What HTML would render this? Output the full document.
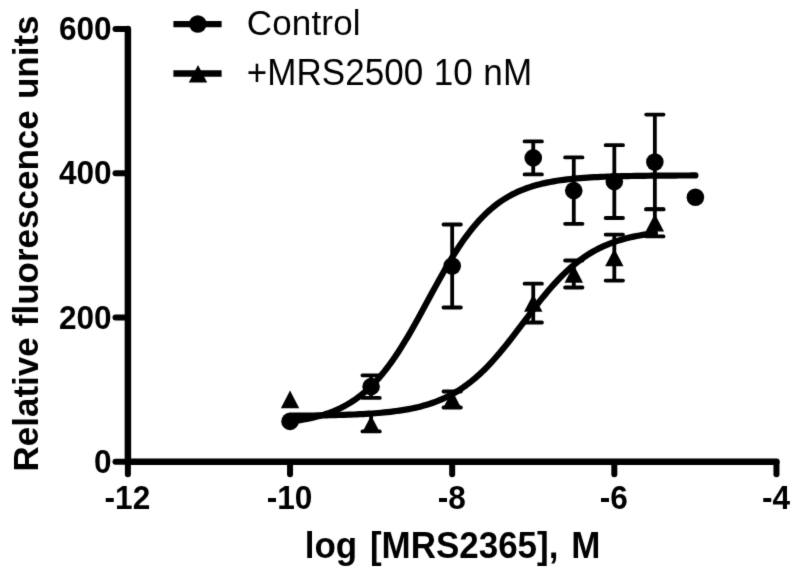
<!DOCTYPE html>
<html lang="en"><head><meta charset="utf-8"><title>Dose response</title>
<style>html,body{margin:0;padding:0;background:#fff}body{width:800px;height:576px;overflow:hidden}svg{display:block}</style>
</head><body>
<svg width="800" height="576" viewBox="0 0 800 576">
<defs><filter id="soft" x="0" y="0" width="800" height="576" filterUnits="userSpaceOnUse" color-interpolation-filters="sRGB"><feConvolveMatrix order="3" kernelMatrix="0.018 0.135 0.018 0.135 1 0.135 0.018 0.135 0.018" divisor="1.612" edgeMode="duplicate" preserveAlpha="true"/></filter></defs>
<g filter="url(#soft)">
<rect width="800" height="576" fill="#fff"/>
<g fill="none" stroke="#000" stroke-linecap="round" stroke-linejoin="round">
<path stroke-width="6.5" d="M127.9 28.899999999999977 V461.8 H776.4599999999999"/>
<path stroke-width="6.0" d="M115.5 461.80 H127.30000000000001"/>
<path stroke-width="6.0" d="M115.5 317.50 H127.30000000000001"/>
<path stroke-width="6.0" d="M115.5 173.20 H127.30000000000001"/>
<path stroke-width="6.0" d="M115.5 28.90 H127.30000000000001"/>
<path stroke-width="6.0" d="M127.90 462.40000000000003 V474.2"/>
<path stroke-width="6.0" d="M290.04 462.40000000000003 V474.2"/>
<path stroke-width="6.0" d="M452.18 462.40000000000003 V474.2"/>
<path stroke-width="6.0" d="M614.32 462.40000000000003 V474.2"/>
<path stroke-width="6.0" d="M776.46 462.40000000000003 V474.2"/>
<path stroke-width="6.2" d="M290.04 421.53 L293.42 421.09 L296.80 420.62 L300.17 420.09 L303.55 419.52 L306.93 418.88 L310.31 418.19 L313.69 417.42 L317.06 416.58 L320.44 415.66 L323.82 414.65 L327.20 413.55 L330.57 412.34 L333.95 411.02 L337.33 409.57 L340.71 408.00 L344.09 406.28 L347.46 404.41 L350.84 402.39 L354.22 400.19 L357.60 397.81 L360.98 395.23 L364.35 392.46 L367.73 389.48 L371.11 386.27 L374.49 382.84 L377.87 379.18 L381.24 375.28 L384.62 371.14 L388.00 366.76 L391.38 362.14 L394.76 357.30 L398.13 352.22 L401.51 346.94 L404.89 341.45 L408.27 335.79 L411.64 329.96 L415.02 324.00 L418.40 317.92 L421.78 311.76 L425.16 305.54 L428.53 299.30 L431.91 293.06 L435.29 286.86 L438.67 280.73 L442.05 274.69 L445.42 268.78 L448.80 263.01 L452.18 257.42 L455.56 252.01 L458.94 246.81 L462.31 241.83 L465.69 237.07 L469.07 232.55 L472.45 228.27 L475.83 224.22 L479.20 220.42 L482.58 216.85 L485.96 213.51 L489.34 210.39 L492.71 207.49 L496.09 204.80 L499.47 202.31 L502.85 200.00 L506.23 197.87 L509.60 195.91 L512.98 194.10 L516.36 192.45 L519.74 190.93 L523.12 189.53 L526.49 188.26 L529.87 187.09 L533.25 186.02 L536.63 185.05 L540.01 184.16 L543.38 183.35 L546.76 182.62 L550.14 181.95 L553.52 181.34 L556.90 180.78 L560.27 180.28 L563.65 179.82 L567.03 179.40 L570.41 179.02 L573.78 178.68 L577.16 178.37 L580.54 178.09 L583.92 177.83 L587.30 177.60 L590.67 177.39 L594.05 177.20 L597.43 177.03 L600.81 176.87 L604.19 176.73 L607.56 176.60 L610.94 176.48 L614.32 176.38 L617.70 176.28 L621.08 176.19 L624.45 176.11 L627.83 176.04 L631.21 175.98 L634.59 175.92 L637.97 175.87 L641.34 175.82 L644.72 175.78 L648.10 175.74 L651.48 175.70 L654.85 175.67 L658.23 175.64 L661.61 175.62 L664.99 175.59 L668.37 175.57 L671.74 175.55 L675.12 175.53 L678.50 175.52 L681.88 175.50 L685.26 175.49 L688.63 175.48 L692.01 175.47 L695.39 175.46"/>
<path stroke-width="6.2" d="M290.04 415.74 L293.08 415.72 L296.12 415.69 L299.16 415.67 L302.20 415.64 L305.24 415.61 L308.28 415.57 L311.32 415.53 L314.36 415.49 L317.40 415.45 L320.44 415.40 L323.48 415.35 L326.52 415.29 L329.56 415.23 L332.60 415.16 L335.64 415.09 L338.68 415.01 L341.72 414.92 L344.76 414.82 L347.80 414.72 L350.84 414.61 L353.88 414.48 L356.92 414.35 L359.96 414.20 L363.00 414.04 L366.04 413.87 L369.08 413.68 L372.12 413.48 L375.16 413.26 L378.20 413.01 L381.24 412.75 L384.28 412.46 L387.32 412.15 L390.36 411.82 L393.40 411.45 L396.44 411.05 L399.48 410.62 L402.52 410.15 L405.56 409.64 L408.60 409.09 L411.64 408.49 L414.69 407.85 L417.73 407.15 L420.77 406.39 L423.81 405.57 L426.85 404.69 L429.89 403.74 L432.93 402.71 L435.97 401.61 L439.01 400.42 L442.05 399.14 L445.09 397.77 L448.13 396.30 L451.17 394.73 L454.21 393.04 L457.25 391.25 L460.29 389.34 L463.33 387.30 L466.37 385.14 L469.41 382.85 L472.45 380.43 L475.49 377.88 L478.53 375.19 L481.57 372.37 L484.61 369.41 L487.65 366.32 L490.69 363.11 L493.73 359.77 L496.77 356.32 L499.81 352.76 L502.85 349.09 L505.89 345.33 L508.93 341.50 L511.97 337.59 L515.01 333.63 L518.05 329.63 L521.09 325.60 L524.13 321.56 L527.17 317.52 L530.21 313.51 L533.25 309.52 L536.29 305.58 L539.33 301.70 L542.37 297.89 L545.41 294.17 L548.45 290.55 L551.49 287.03 L554.53 283.62 L557.57 280.33 L560.61 277.17 L563.65 274.13 L566.69 271.23 L569.73 268.46 L572.77 265.83 L575.81 263.33 L578.85 260.96 L581.89 258.72 L584.93 256.61 L587.97 254.63 L591.01 252.76 L594.05 251.01 L597.09 249.37 L600.13 247.84 L603.17 246.41 L606.21 245.08 L609.25 243.84 L612.29 242.68 L615.33 241.61 L618.37 240.61 L621.41 239.69 L624.45 238.83 L627.49 238.04 L630.53 237.31 L633.57 236.63 L636.61 236.00 L639.65 235.43 L642.69 234.89 L645.73 234.40 L648.77 233.95 L651.81 233.53 L654.85 233.14"/>
<g stroke-width="3.8" stroke-linecap="round">
<path d="M371.11 375.30 V397.90 M362.41 375.30 H379.81 M362.41 397.90 H379.81"/>
<path d="M452.18 224.50 V307.50 M443.48 224.50 H460.88 M443.48 307.50 H460.88"/>
<path d="M533.25 141.40 V174.40 M524.55 141.40 H541.95 M524.55 174.40 H541.95"/>
<path d="M573.78 157.40 V223.80 M565.08 157.40 H582.49 M565.08 223.80 H582.49"/>
<path d="M614.32 145.20 V218.00 M605.62 145.20 H623.02 M605.62 218.00 H623.02"/>
<path d="M654.85 114.60 V209.40 M646.15 114.60 H663.55 M646.15 209.40 H663.55"/>
<path d="M371.11 413.50 V431.40 M362.41 413.50 H379.81 M362.41 431.40 H379.81"/>
<path d="M452.18 391.50 V407.50 M443.48 391.50 H460.88 M443.48 407.50 H460.88"/>
<path d="M533.25 283.70 V322.50 M524.55 283.70 H541.95 M524.55 322.50 H541.95"/>
<path d="M573.78 260.50 V287.50 M565.08 260.50 H582.49 M565.08 287.50 H582.49"/>
<path d="M614.32 234.60 V280.60 M605.62 234.60 H623.02 M605.62 280.60 H623.02"/>
<path d="M654.85 209.20 V236.40 M646.15 209.20 H663.55 M646.15 236.40 H663.55"/>
</g>
<path stroke-width="6.3" stroke-linecap="butt" d="M173.4 24.1 H221.6 M173.4 73.5 H221.6"/>
</g>
<g fill="#000">
<circle cx="290.04" cy="421.4" r="8.8"/>
<circle cx="371.11" cy="386.6" r="8.8"/>
<circle cx="452.18" cy="266" r="8.8"/>
<circle cx="533.25" cy="157.9" r="8.8"/>
<circle cx="573.78" cy="190.6" r="8.8"/>
<circle cx="614.32" cy="181.6" r="8.8"/>
<circle cx="654.85" cy="162.0" r="8.8"/>
<circle cx="695.39" cy="197.3" r="8.8"/>
<path d="M290.04 390.60 L299.24 408.20 H280.84 Z"/>
<path d="M371.11 415.40 L380.31 433.00 H361.91 Z"/>
<path d="M452.18 390.60 L461.38 408.20 H442.98 Z"/>
<path d="M533.25 294.20 L542.45 311.80 H524.05 Z"/>
<path d="M573.78 265.10 L582.99 282.70 H564.58 Z"/>
<path d="M614.32 248.70 L623.52 266.30 H605.12 Z"/>
<path d="M654.85 213.90 L664.05 231.50 H645.65 Z"/>
<circle cx="197.8" cy="24" r="8.8"/>
<path d="M198 64.90 L207.20 82.50 H188.80 Z"/>
</g>
<g font-family="Liberation Sans, Arial, Helvetica, sans-serif" fill="#000">
<text transform="translate(111.6 472.9) scale(1 1.03)" font-size="31.6" font-weight="bold" text-anchor="end">0</text>
<text transform="translate(111.6 328.6) scale(1 1.03)" font-size="31.6" font-weight="bold" text-anchor="end">200</text>
<text transform="translate(111.6 184.3) scale(1 1.03)" font-size="31.6" font-weight="bold" text-anchor="end">400</text>
<text transform="translate(111.6 40.0) scale(1 1.03)" font-size="31.6" font-weight="bold" text-anchor="end">600</text>
<text transform="translate(127.4 508.7) scale(1 1.03)" font-size="31.6" font-weight="bold" text-anchor="middle">-12</text>
<text transform="translate(289.5 508.7) scale(1 1.03)" font-size="31.6" font-weight="bold" text-anchor="middle">-10</text>
<text transform="translate(451.7 508.7) scale(1 1.03)" font-size="31.6" font-weight="bold" text-anchor="middle">-8</text>
<text transform="translate(613.8 508.7) scale(1 1.03)" font-size="31.6" font-weight="bold" text-anchor="middle">-6</text>
<text transform="translate(776.0 508.7) scale(1 1.03)" font-size="31.6" font-weight="bold" text-anchor="middle">-4</text>
<text transform="translate(452.5 558.4) scale(1 1.04)" font-size="35" font-weight="bold" text-anchor="middle" word-spacing="3">log [MRS2365], M</text>
<text transform="translate(37.6 243.5) rotate(-90) scale(1 1.0)" font-size="35" font-weight="bold" text-anchor="middle" word-spacing="1.4">Relative fluorescence units</text>
<text transform="translate(246.8 35.0) scale(1 1.0)" font-size="35" text-anchor="start" letter-spacing="0.15">Control</text>
<text transform="translate(246.8 84.7) scale(1 1.03)" font-size="35" text-anchor="start" word-spacing="0.8" letter-spacing="0.05">+MRS2500 10 nM</text>
</g>
</g>
</svg>
</body></html>
